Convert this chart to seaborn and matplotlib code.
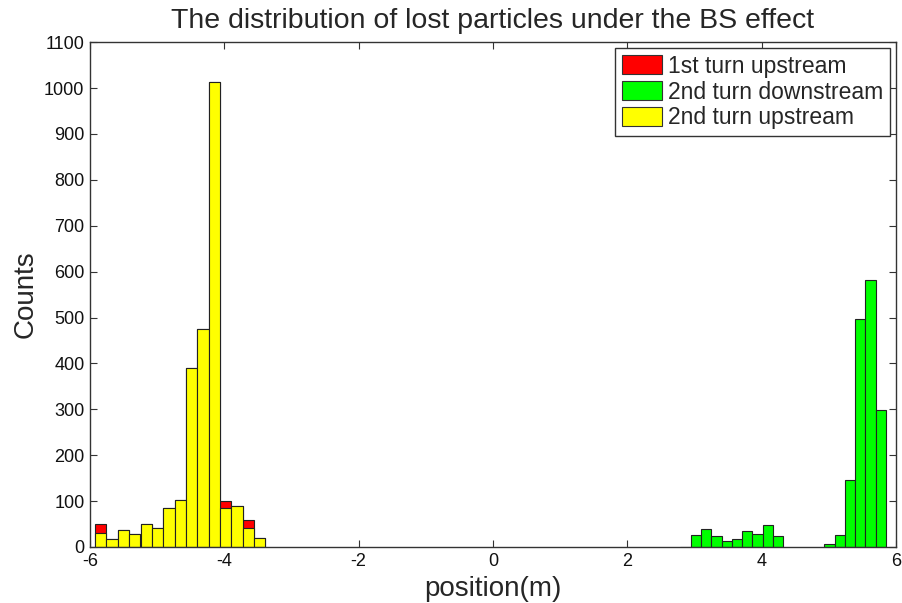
import numpy as np
import pandas as pd
import matplotlib
matplotlib.use("Agg")
import matplotlib.pyplot as plt
from matplotlib.patches import Patch
import seaborn as sns

# ---- data ----
# 2nd turn upstream (yellow) bins and counts
up_pos = [-5.841, -5.672, -5.503, -5.334, -5.164, -4.995, -4.826, -4.657,
          -4.487, -4.318, -4.149, -3.980, -3.810, -3.641, -3.472]
up2_counts = [30, 18, 37, 28, 51, 42, 86, 102, 391, 476, 1013, 84, 89, 41, 19]
# 1st turn upstream (red), stacked on the yellow bins
up1_counts = [20, 0, 0, 0, 0, 0, 0, 0, 0, 0, 0, 16, 0, 18, 0]
# 2nd turn downstream (green) bins and counts
down_pos = [2.867, 3.020, 3.173, 3.326, 3.479, 3.632, 3.785, 3.938, 4.091,
            4.244, 4.397, 4.550, 4.703, 4.856, 5.009, 5.162, 5.315, 5.468,
            5.621, 5.774]
down2_counts = [1, 27, 39, 25, 13, 17, 35, 28, 47, 23, 0, 0, 0, 0,
                7, 27, 147, 497, 581, 298]

labels = ["1st turn upstream", "2nd turn downstream", "2nd turn upstream"]
colors = ["#ff0000", "#00ff00", "#ffff00"]
x_ticks = [-6, -4, -2, 0, 2, 4, 6]
y_ticks = list(range(0, 1101, 100))

sns.set_theme(style="white")
plt.rcParams["font.family"] = ["Liberation Sans", "DejaVu Sans"]
plt.rcParams["xtick.direction"] = "in"
plt.rcParams["ytick.direction"] = "in"

fig = plt.figure(figsize=(9.03, 6.03), dpi=100)
ax = fig.add_axes([0.0997, 0.0929, 0.8925, 0.8371])

up_df = pd.DataFrame({"pos": up_pos,
                      "total": np.array(up2_counts) + np.array(up1_counts),
                      "up2": up2_counts})
down_df = pd.DataFrame({"pos": down_pos, "down2": down2_counts})
down_df = down_df[down_df["down2"] > 0]

edge_kw = dict(edgecolor="#222222", linewidth=0.8, saturation=1,
               errorbar=None, native_scale=True, width=1.0, ax=ax)
sns.barplot(data=up_df, x="pos", y="total", color=colors[0], **edge_kw)
sns.barplot(data=up_df, x="pos", y="up2", color=colors[2], **edge_kw)
sns.barplot(data=down_df, x="pos", y="down2", color=colors[1], **edge_kw)

ax.set_xlim(-6, 6)
ax.set_ylim(0, 1100)
ax.set_xticks(x_ticks)
ax.set_xticklabels([str(v) for v in x_ticks])
ax.set_yticks(y_ticks)
ax.set_yticklabels([str(v) for v in y_ticks])
ax.tick_params(axis="both", which="both", direction="in", length=5,
               width=0.8, color="#333333", labelsize=13, labelcolor="#111111",
               top=True, right=True, bottom=True, left=True, pad=4)
for s in ax.spines.values():
    s.set_visible(True)
    s.set_color("#333333")
    s.set_linewidth(1.0)

ax.set_title("The distribution of lost particles under the BS effect",
             fontsize=20.5, pad=10)
ax.set_xlabel("position(m)", fontsize=20, labelpad=5)
ax.set_ylabel("Counts", fontsize=20, labelpad=4)

handles = [Patch(facecolor=c, edgecolor="#333333", linewidth=0.8, label=l)
           for c, l in zip(colors, labels)]
ax.legend(handles=handles, loc="upper right", fontsize=16.5,
          frameon=True, fancybox=False, framealpha=1, edgecolor="#333333",
          borderaxespad=0.25, borderpad=0.3, labelspacing=0.12,
          handlelength=1.75, handleheight=0.9, handletextpad=0.25)
ax.get_legend().get_frame().set_linewidth(1.0)

fig.savefig("out.png", dpi=100)
